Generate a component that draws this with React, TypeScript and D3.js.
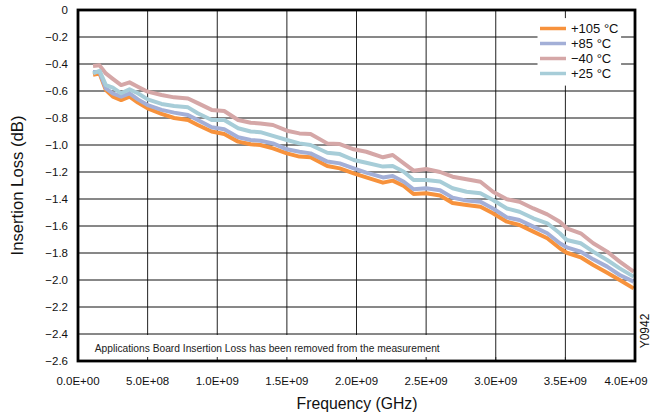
import React from "react";
import * as d3 from "d3";

// frequency in Hz, insertion loss in dB
const freq = [
  1.08e8, 1.55e8, 2.0e8, 2.5e8, 3.1e8, 3.7e8, 4.3e8, 5.0e8, 6.0e8, 6.9e8,
  7.9e8, 8.6e8, 9.6e8, 1.05e9, 1.15e9, 1.24e9, 1.31e9, 1.4e9, 1.5e9, 1.59e9,
  1.67e9, 1.79e9, 1.88e9, 1.98e9, 2.07e9, 2.19e9, 2.26e9, 2.34e9, 2.41e9, 2.5e9,
  2.6e9, 2.69e9, 2.79e9, 2.89e9, 2.98e9, 3.08e9, 3.17e9, 3.27e9, 3.37e9, 3.46e9,
  3.51e9, 3.61e9, 3.7e9, 3.8e9, 3.89e9, 3.99e9,
];

const loss105 = [
  -0.48, -0.47, -0.593, -0.642, -0.667, -0.642, -0.686, -0.728, -0.77, -0.8,
  -0.815, -0.852, -0.9, -0.918, -0.975, -0.995, -1.0, -1.025, -1.062, -1.086,
  -1.091, -1.156, -1.173, -1.21, -1.24, -1.279, -1.264, -1.304, -1.363, -1.358,
  -1.374, -1.43, -1.444, -1.457, -1.506, -1.568, -1.593, -1.642, -1.691, -1.765,
  -1.798, -1.832, -1.889, -1.946, -2.0, -2.062,
];

const loss85 = [
  -0.46, -0.46, -0.58, -0.617, -0.642, -0.617, -0.662, -0.704, -0.74, -0.76,
  -0.778, -0.815, -0.869, -0.884, -0.943, -0.963, -0.968, -0.988, -1.032, -1.05,
  -1.062, -1.123, -1.136, -1.173, -1.205, -1.24, -1.23, -1.272, -1.328, -1.321,
  -1.335, -1.39, -1.412, -1.42, -1.47, -1.536, -1.556, -1.605, -1.654, -1.728,
  -1.758, -1.79, -1.847, -1.901, -1.963, -2.012,
];

const lossM40 = [
  -0.415, -0.41, -0.47, -0.51, -0.556, -0.536, -0.568, -0.605, -0.63, -0.647,
  -0.655, -0.69, -0.74, -0.748, -0.815, -0.835, -0.84, -0.852, -0.894, -0.914,
  -0.918, -0.988, -0.993, -1.032, -1.05, -1.091, -1.074, -1.136, -1.19, -1.178,
  -1.2, -1.235, -1.254, -1.272, -1.346, -1.402, -1.42, -1.47, -1.514, -1.568,
  -1.617, -1.654, -1.728, -1.79, -1.864, -1.938,
];

const loss25 = [
  -0.47, -0.45, -0.556, -0.575, -0.617, -0.588, -0.617, -0.662, -0.696, -0.711,
  -0.721, -0.765, -0.815, -0.815, -0.876, -0.9, -0.905, -0.933, -0.963, -0.988,
  -1.0, -1.057, -1.067, -1.111, -1.131, -1.16, -1.156, -1.198, -1.259, -1.259,
  -1.27, -1.32, -1.346, -1.358, -1.407, -1.47, -1.494, -1.543, -1.58, -1.654,
  -1.704, -1.728, -1.79, -1.852, -1.914, -1.975,
];

const seriesNames = ["+105 °C", "+85 °C", "\u221240 °C", "+25 °C"];
const seriesColors = ["#f7923c", "#a3afd7", "#d5a7a7", "#a7cdd8"];
const seriesValues = [loss105, loss85, lossM40, loss25];

const xTicks = [0, 5e8, 1e9, 1.5e9, 2e9, 2.5e9, 3e9, 3.5e9, 4e9];
const xTickLabels = [
  "0.0E+00", "5.0E+08", "1.0E+09", "1.5E+09", "2.0E+09",
  "2.5E+09", "3.0E+09", "3.5E+09", "4.0E+09",
];
const yTicks = d3.range(0, 14).map((i) => -i * 0.2);

const width = 657;
const height = 418;
const margin = { top: 10, right: 22, bottom: 57, left: 78 };
const font = "'Liberation Sans', Arial, Helvetica, sans-serif";

const fmtY = (v: number) =>
  v === 0 ? "0" : "\u2212" + Math.abs(v).toFixed(1);

const App: React.FC = () => {
  const x = d3
    .scaleLinear()
    .domain([0, 4e9])
    .range([margin.left, width - margin.right]);
  const y = d3
    .scaleLinear()
    .domain([-2.6, 0])
    .range([height - margin.bottom, margin.top]);

  const line = d3
    .line<number>()
    .x((_, i) => x(freq[i]))
    .y((d) => y(d));

  const [x0, x1] = x.range();
  const [y1, y0] = y.range();

  return (
    <svg
      width={width}
      height={height}
      style={{ position: "absolute", left: 0, top: 0, background: "#fff" }}
      fontFamily={font}
    >
      {/* grid */}
      {xTicks.slice(1, -1).map((t) => (
        <line key={"gx" + t} x1={x(t)} x2={x(t)} y1={y0} y2={y1} stroke="#222" strokeWidth={1} />
      ))}
      {yTicks.slice(1, -1).map((t) => (
        <line key={"gy" + t} x1={x0} x2={x1} y1={y(t)} y2={y(t)} stroke="#111" strokeWidth={1} />
      ))}

      {/* note box */}
      <rect x={x0} y={y(-2.4) + 1} width={x(2.75e9) - x0} height={y(-2.6) - y(-2.4) - 2} fill="#fff" />
      {xTicks.slice(1, -1).map((t) => (
        <line key={"tk" + t} x1={x(t)} x2={x(t)} y1={y1} y2={y1 - 4} stroke="#222" strokeWidth={1} />
      ))}
      <text x={x(1.2e8)} y={y(-2.5) + 4} fontSize={11} textLength={345} lengthAdjust="spacingAndGlyphs" fill="#222">
        Applications Board Insertion Loss has been removed from the measurement
      </text>

      {/* series */}
      {seriesValues.map((vals, i) => (
        <path
          key={seriesNames[i]}
          d={line(vals) || ""}
          fill="none"
          stroke={seriesColors[i]}
          strokeWidth={4}
          strokeLinejoin="round"
        />
      ))}

      {/* legend */}
      <rect x={x(3.3e9)} y={y(-0.06)} width={x(3.9e9) - x(3.3e9)} height={y(-0.56) - y(-0.06)} fill="#fff" />
      {seriesNames.map((name, i) => (
        <g key={"lg" + name} transform={`translate(540,${28.5 + i * 15})`}>
          <line x1={0} x2={26} stroke={seriesColors[i]} strokeWidth={3.5} />
          <text x={31} y={4.5} fontSize={13} fill="#111">
            {name}
          </text>
        </g>
      ))}

      {/* frame */}
      <rect x={x0} y={y0} width={x1 - x0} height={y1 - y0} fill="none" stroke="#000" strokeWidth={2.8} />

      {/* y ticks */}
      {yTicks.map((t) => (
        <text key={"yl" + t} x={x0 - 10} y={y(t) + 4} fontSize={11.5} textAnchor="end" fill="#111">
          {fmtY(t)}
        </text>
      ))}

      {/* x ticks */}
      {xTicks.map((t, i) => (
        <text
          key={"xl" + t}
          x={x(t) + (i === xTicks.length - 1 ? -9 : 0)}
          y={y1 + 24}
          fontSize={11.5}
          textAnchor="middle"
          fill="#111"
        >
          {xTickLabels[i]}
        </text>
      ))}

      {/* axis titles */}
      <text x={357} y={409} fontSize={16} textAnchor="middle" textLength={121} lengthAdjust="spacingAndGlyphs" fill="#111">
        Frequency (GHz)
      </text>
      <text
        transform={`translate(23,${(y0 + y1) / 2}) rotate(-90)`}
        fontSize={16}
        textAnchor="middle"
        textLength={140}
        lengthAdjust="spacingAndGlyphs"
        fill="#111"
      >
        Insertion Loss (dB)
      </text>
      <text transform={`translate(649,331) rotate(-90)`} fontSize={12} textAnchor="middle" fill="#111">
        Y0942
      </text>
    </svg>
  );
};

export default App;
